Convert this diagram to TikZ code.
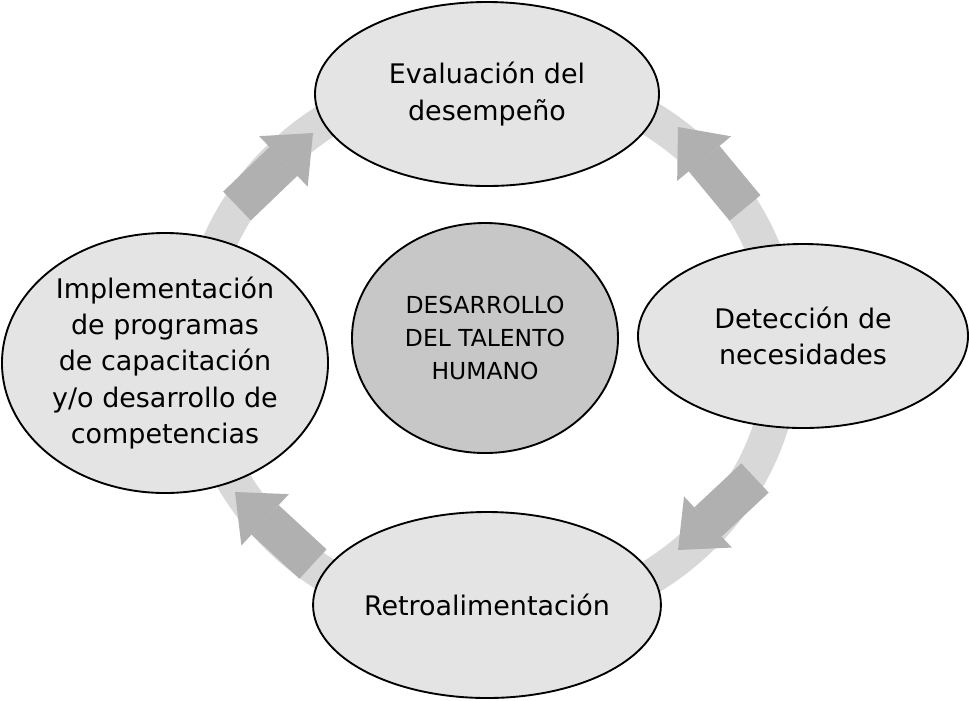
\documentclass[tikz,border=0pt]{standalone}
\usepackage{fontspec}
\setmainfont{DejaVu Sans}
\usepackage{xcolor}
\usepackage{tikz}
\usetikzlibrary{arrows.meta, shapes.geometric}

\definecolor{ovalgray}{RGB}{228,228,229}
\definecolor{coregray}{RGB}{199,199,200}
\definecolor{ringgray}{RGB}{216,216,217}
\definecolor{arrowgray}{RGB}{176,176,177}

\begin{document}
\begin{tikzpicture}[
      x=0.15mm, y=-0.15mm,
      oval/.style={ellipse, draw, line width=0.8pt, fill=ovalgray,
                   inner sep=0pt, align=center,
                   font=\fontsize{11.5}{15.4}\selectfont},
      core/.style={ellipse, draw, line width=0.8pt, fill=coregray,
                   inner sep=0pt, align=center,
                   font=\fontsize{10}{14}\selectfont},
      ring/.style={line width=5.2mm, ringgray},
      blockarr/.style={line width=6mm, arrowgray,
                       -{Triangle[length=6.15mm, width=10.5mm, line width=0pt]}}
    ]

    \useasboundingbox (0,0) rectangle (969,700);

    %% ---- ring and block arrows (behind the ovals) ----
    \coordinate (mid) at (490,348);
    \draw[ring] (mid) ellipse [x radius=43.95mm, y radius=41.1mm];

    %% tails and tips of the four block arrows
    \coordinate (ul0) at (237,206);  \coordinate (ul1) at (313,133);
    \coordinate (ur0) at (745,208);  \coordinate (ur1) at (678,127);
    \coordinate (lr0) at (755,478);  \coordinate (lr1) at (678,550);
    \coordinate (ll0) at (313,564);  \coordinate (ll1) at (235,492);

    \draw[blockarr] (ul0) -- (ul1);
    \draw[blockarr] (ur0) -- (ur1);
    \draw[blockarr] (lr0) -- (lr1);
    \draw[blockarr] (ll0) -- (ll1);

    %% ---- ovals ----
    \node[oval, minimum width=51.6mm, minimum height=27.6mm] at (487,94) (eval)
          {Evaluación del\\desempeño};
    \node[oval, minimum width=49.5mm, minimum height=27.6mm] at (803,336) (detec)
          {Detección de\\necesidades};
    \node[oval, minimum width=51.6mm, minimum height=27.9mm] at (487,605) (retro)
          {Retroalimentación};
    \node[oval, minimum width=48.9mm, minimum height=39mm] at (165,363) (impl)
          {Implementación\\de programas\\de capacitación\\y/o desarrollo de\\competencias};

    %% centre
    \node[core, minimum width=39.9mm, minimum height=34.5mm] at (485,338) (talento)
          {DESARROLLO\\DEL TALENTO\\HUMANO};

  \end{tikzpicture}
\end{document}
